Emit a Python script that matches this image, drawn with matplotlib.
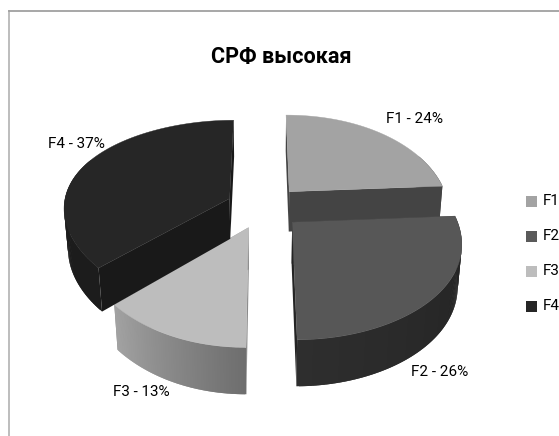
#!/usr/bin/env python3
"""СРФ высокая - объёмная круговая диаграмма"""

import numpy as np
import matplotlib
matplotlib.use("Agg")
import matplotlib.pyplot as plt
from matplotlib.patches import Polygon, Rectangle

categories = ["F1", "F2", "F3", "F4"]
values = [24, 26, 13, 37]
point_labels = ["F1 - 24%", "F2 - 26%", "F3 - 13%", "F4 - 37%"]
title = "СРФ высокая"

top_colors = ["#a3a3a3", "#575757", "#bdbdbd", "#262626"]
cut_colors = ["#444444", "#242424", "#8a8a8a", "#191919"]
wall_start = ["#444444", "#222222", "#6e6e6e", "#1c1c1c"]
wall_end = ["#444444", "#2e2e2e", "#a2a2a2", "#1c1c1c"]
legend_colors = ["#a3a3a3", "#5a5a5a", "#bdbdbd", "#262626"]

# параметры проекции (в пикселях картинки)
CX, CY = 264, 207
RX, RY = 163, 93.3
PERSP_Y = 0.16
SHRINK = 0.02
DEPTH = 41.5
EXPLODE = 0.232


def project(x, y, low=False):
    extra = SHRINK if low else 0
    sx = 1 / (1 + y * (0.14 + 0.04 * x) + 0.012 * x + extra)
    sy = 1 / (1 + PERSP_Y * y + extra)
    return CX + x * RX * sx, CY - y * RY * sy + (DEPTH * sy if low else 0)


def mix(c1, c2, t):
    a = np.array(matplotlib.colors.to_rgb(c1))
    b = np.array(matplotlib.colors.to_rgb(c2))
    return tuple(a + (b - a) * t)


fig = plt.figure(figsize=(5.59, 4.36), dpi=100)
ax = fig.add_axes([0, 0, 1, 1])
ax.set_xlim(0, 559)
ax.set_ylim(436, 0)
ax.axis("off")

# рамка области диаграммы
ax.plot([8.5, 8.5], [436, 11.5], color="#b8b8b8", lw=1.3)
ax.plot([8.5, 559], [11.5, 11.5], color="#a0a0a0", lw=1.3)

total = sum(values)
edges = np.cumsum([0] + values) / total * 2 * np.pi

for i in range(len(values)):
    a0, a1 = edges[i], edges[i + 1]
    mid = (a0 + a1) / 2
    ox, oy = EXPLODE * np.sin(mid), EXPLODE * np.cos(mid)
    th = np.linspace(a0, a1, 120)
    xs = ox + np.sin(th)
    ys = oy + np.cos(th)

    # боковые срезы (от центра к краю)
    for k in (0, -1):
        quad = [project(ox, oy), project(xs[k], ys[k]),
                project(xs[k], ys[k], True), project(ox, oy, True)]
        ax.add_patch(Polygon(quad, closed=True, fc=cut_colors[i], ec="none"))

    # внешняя стенка с градиентом, полоски внахлёст чтобы не было щелей
    for j in range(len(th) - 2):
        if np.cos(th[j]) > 0.3 and abs(np.sin(th[j])) < 0.9:
            continue  # задняя часть, не видна
        quad = [project(xs[j], ys[j]), project(xs[j + 2], ys[j + 2]),
                project(xs[j + 2], ys[j + 2], True), project(xs[j], ys[j], True)]
        c = mix(wall_start[i], wall_end[i], j / (len(th) - 3))
        ax.add_patch(Polygon(quad, closed=True, fc=c, ec="none", lw=0))

    # верхняя грань
    top = [project(ox, oy)] + [project(x, y) for x, y in zip(xs, ys)]
    ax.add_patch(Polygon(top, closed=True, fc=top_colors[i], ec=top_colors[i], lw=0.3))

font = ["Roboto", "DejaVu Sans"]
ax.text(281.5, 57, title, ha="center", va="center", fontsize=15.6, fontweight="bold",
        family=font, color="black")

label_pos = [(415, 119), (440, 372), (141, 392), (76, 144)]
for txt, (lx, ly) in zip(point_labels, label_pos):
    ax.text(lx, ly, txt, ha="center", va="center", fontsize=11, family=font, color="black")

legend_y = [201, 236, 271, 306]
for name, col, ly in zip(categories, legend_colors, legend_y):
    ax.add_patch(Rectangle((526, ly - 5.5), 10.5, 11, fc=col, ec="none"))
    ax.text(543, ly, name, ha="left", va="center", fontsize=11, family=font, color="black")

fig.savefig("out.png", dpi=100)
